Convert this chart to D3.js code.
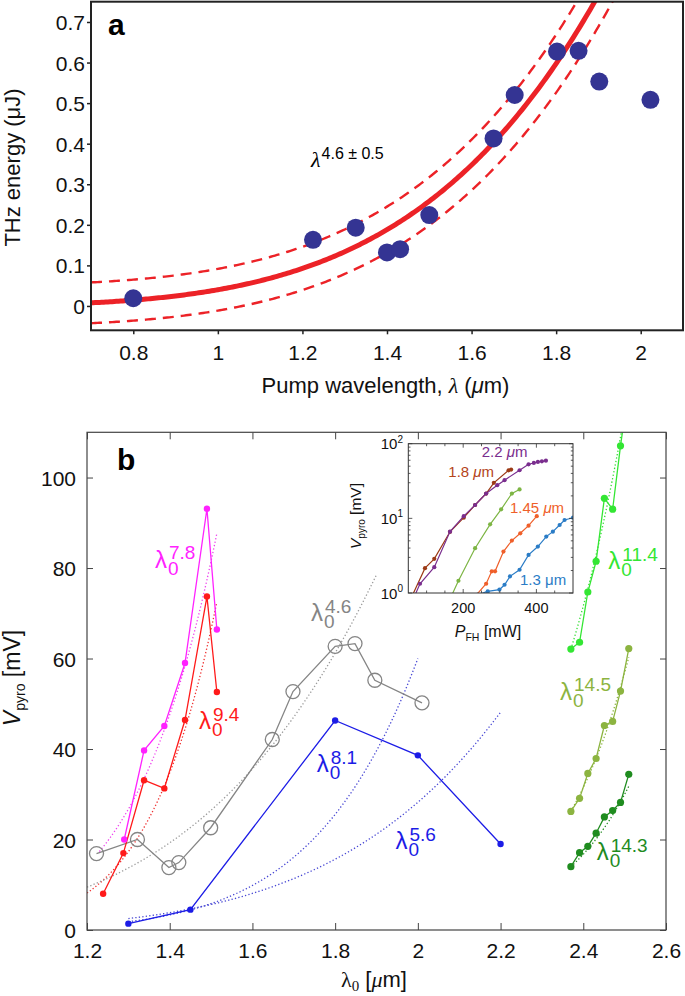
<!DOCTYPE html>
<html><head><meta charset="utf-8">
<script src="https://cdn.jsdelivr.net/npm/d3@7"></script>
<style>body{margin:0;background:#fff}svg{display:block}</style>
</head><body><svg id="c" width="685" height="996"></svg>
<script>
// ================= DATA =================
// Panel a: THz energy vs pump wavelength
const aWavelength = [0.8, 1.225, 1.326, 1.4, 1.431, 1.5, 1.652, 1.702, 1.802, 1.853, 1.902, 2.023];
const aEnergy     = [0.019, 0.163, 0.193, 0.132, 0.14, 0.224, 0.413, 0.52, 0.627, 0.629, 0.553, 0.508];
const aFitExponent = 4.6, aFitPrefactor = 0.04;      // E = A * lambda^n
const aBandOffset = 0.05, aBandScale = 0.036;        // confidence band half-width = c + k*E
const aXTicks = [0.8, 1, 1.2, 1.4, 1.6, 1.8, 2];
const aYTicks = [0, 0.1, 0.2, 0.3, 0.4, 0.5, 0.6, 0.7];

// Panel b: V_pyro vs lambda0
const magentaX = [1.29, 1.338, 1.387, 1.437, 1.49, 1.514];
const magentaY = [20, 39.7, 45.1, 59, 93.1, 66.4];
const redX = [1.239, 1.288, 1.338, 1.387, 1.437, 1.49, 1.514];
const redY = [8.0, 17.0, 33.1, 31.3, 46.4, 73.7, 52.6];
const grayX = [1.223, 1.322, 1.398, 1.422, 1.499, 1.648, 1.698, 1.8, 1.848, 1.896, 2.01];
const grayY = [16.9, 20.0, 13.8, 14.9, 22.6, 42.1, 52.7, 62.7, 63.3, 55.2, 50.2];
const blueX = [1.3, 1.45, 1.8, 2.0, 2.2];
const blueY = [1.4, 4.5, 46.3, 38.6, 19.0];
const greenX = [2.37, 2.391, 2.411, 2.431, 2.451, 2.471, 2.49, 2.51];
const greenY = [62.1, 63.6, 74.7, 81.5, 95.4, 93.0, 107, 120];
const oliveX = [2.37, 2.391, 2.411, 2.431, 2.451, 2.471, 2.49, 2.51];
const oliveY = [26.2, 29.1, 34.6, 37.9, 45.2, 46.1, 52.8, 62.2];
const darkX = [2.37, 2.391, 2.411, 2.431, 2.451, 2.471, 2.49, 2.51];
const darkY = [14.0, 17.1, 18.5, 21.4, 25.0, 26.4, 28.2, 34.4];

// power-law fits: exponent, prefactor, lambda range
const fitExponents  = [7.8, 9.4, 4.6, 8.1, 5.6, 11.4, 14.5, 14.3];
const fitPrefactors = [3.45, 1.47, 4.1, 0.2187, 0.582, 0.003316, 9.66e-5, 6.12e-5];
const fitStart = [1.23, 1.2, 1.2, 1.3, 1.3, 2.37, 2.37, 2.37];
const fitEnd   = [1.514, 1.514, 1.9, 2.0, 2.2, 2.495, 2.51, 2.51];

const bXTicks = [1.2, 1.4, 1.6, 1.8, 2, 2.2, 2.4, 2.6];
const bYTicks = [0, 20, 40, 60, 80, 100];

// Inset: V_pyro (log) vs P_FH
const in22P = [62, 82, 121, 164, 201.5, 232.5, 262.7, 293, 313, 354, 378.6, 393, 404, 415, 426];
const in22V = [0.8, 1.33, 2.22, 6.64, 10.7, 15.1, 21.5, 27.8, 32.5, 44.1, 53.0, 55.2, 57, 58.1, 59.3];
const in18P = [55, 95.6, 121, 164, 201.5, 232.5, 262.7, 283.7, 324, 331];
const in18V = [0.8, 2.15, 2.87, 6.6, 10.2, 15.1, 21.5, 29.9, 44, 45];
const inGP  = [165, 187, 232.5, 273.6, 303.7, 333, 354];
const inGV  = [0.85, 1.46, 3.98, 8.32, 13.2, 21.5, 24.4];
const in145P = [228, 262.7, 278, 287, 310, 333, 356, 378.6, 401];
const in145V = [0.85, 1.33, 1.95, 1.95, 3.59, 5.04, 6.31, 7.98, 10.7];
const in13P = [240, 267, 299, 313, 328, 354, 378.6, 404, 427, 445, 463.5, 477, 500];
const in13V = [0.95, 1.05, 1.11, 1.29, 1.67, 2.05, 3.24, 4.19, 5.7, 6.64, 8.15, 9.5, 10.2];
const inXTicks = [200, 400];
const inYTicks = [1, 10, 100];

// ================= DRAW =================
const FONT = '"Liberation Sans", Arial, Helvetica, sans-serif';
const SERIF = '"Liberation Serif", "Times New Roman", serif';
const svg = d3.select("#c").attr("font-family", FONT);
const defs = svg.append("defs");

// ---------- Panel a ----------
const ax = d3.scaleLinear().domain([0.7, 2.1]).range([91, 683]);
const ay = d3.scaleLinear().domain([-0.06, 0.75]).range([330.3, 1.7]);
defs.append("clipPath").attr("id", "clipA").append("rect")
  .attr("x", ax.range()[0]).attr("y", ay.range()[1])
  .attr("width", ax.range()[1] - ax.range()[0]).attr("height", ay.range()[0] - ay.range()[1]);

const ga = svg.append("g");
const fitA = l => aFitPrefactor * Math.pow(l, aFitExponent);
const grid = d3.range(0.7, 2.1001, 0.005);
const lineA = d3.line().x(d => ax(d[0])).y(d => ay(d[1]));
const plotA = ga.append("g").attr("clip-path", "url(#clipA)");
plotA.append("path").datum(grid.map(l => [l, fitA(l) + aBandOffset + aBandScale * fitA(l)]))
  .attr("d", lineA).attr("fill", "none").attr("stroke", "#ec2227").attr("stroke-width", 2.4).attr("stroke-dasharray", "11,7");
plotA.append("path").datum(grid.map(l => [l, fitA(l) - aBandOffset - aBandScale * fitA(l)]))
  .attr("d", lineA).attr("fill", "none").attr("stroke", "#ec2227").attr("stroke-width", 2.4).attr("stroke-dasharray", "11,7");
plotA.append("path").datum(grid.map(l => [l, fitA(l)]))
  .attr("d", lineA).attr("fill", "none").attr("stroke", "#ec2227").attr("stroke-width", 5);
plotA.selectAll("circle").data(aWavelength.map((w, i) => [w, aEnergy[i]])).join("circle")
  .attr("cx", d => ax(d[0])).attr("cy", d => ay(d[1])).attr("r", 9).attr("fill", "#343493");

const axA = ga.append("g").attr("transform", `translate(0,${ay.range()[0]})`)
  .call(d3.axisBottom(ax).tickValues(aXTicks).tickSize(4).tickFormat(d3.format("")));
axA.selectAll("text").attr("y", 29.7).attr("dy", null).attr("font-size", 21).attr("font-family", FONT).attr("fill", "#111");
const ayA = ga.append("g").attr("transform", `translate(${ax.range()[0]},0)`)
  .call(d3.axisLeft(ay).tickValues(aYTicks).tickSize(4).tickFormat(d3.format("")));
ayA.selectAll("text").attr("x", -6).attr("dy", "0.36em").attr("font-size", 21).attr("font-family", FONT).attr("fill", "#111");
[axA, ayA].forEach(g => { g.select(".domain").remove(); g.selectAll("line").attr("stroke", "#222").attr("stroke-width", 1.5); });
ga.append("rect").attr("x", ax.range()[0]).attr("y", ay.range()[1])
  .attr("width", ax.range()[1] - ax.range()[0]).attr("height", ay.range()[0] - ay.range()[1])
  .attr("fill", "none").attr("stroke", "#222").attr("stroke-width", 2);

ga.append("text").attr("x", 108).attr("y", 35).attr("font-size", 30).attr("font-weight", "bold").text("a");
const lt = ga.append("text").attr("x", 311).attr("y", 167);
lt.append("tspan").attr("font-family", SERIF).attr("font-style", "italic").attr("font-size", 22).text("λ");
lt.append("tspan").attr("font-size", 16).attr("dy", -8).attr("dx", 1).text("4.6 ± 0.5");
ga.append("text").attr("transform", "translate(19.5,167.5) rotate(-90)").attr("text-anchor", "middle")
  .attr("font-size", 22).attr("fill", "#111").text("THz energy (μJ)");
const xt = ga.append("text").attr("x", 385.5).attr("y", 393).attr("text-anchor", "middle").attr("font-size", 22).attr("fill", "#111");
xt.append("tspan").text("Pump wavelength, ");
xt.append("tspan").attr("font-style", "italic").attr("font-family", SERIF).text("λ");
xt.append("tspan").text(" (");
xt.append("tspan").attr("font-style", "italic").text("μ");
xt.append("tspan").text("m)");

// ---------- Panel b ----------
const bx = d3.scaleLinear().domain([1.2, 2.6]).range([87, 666]);
const by = d3.scaleLinear().domain([0, 110]).range([930, 432.3]);
defs.append("clipPath").attr("id", "clipB").append("rect")
  .attr("x", bx.range()[0]).attr("y", by.range()[1])
  .attr("width", bx.range()[1] - bx.range()[0]).attr("height", by.range()[0] - by.range()[1]);
const gb = svg.append("g");
const plotB = gb.append("g").attr("clip-path", "url(#clipB)");
const lineB = d3.line().x(d => bx(d[0])).y(d => by(d[1]));

const fitColors = ["#ee44ee", "#ee3030", "#9a9a9a", "#4848d4", "#4848d4", "#33dd33", "#8ab43e", "#228b22"];
fitExponents.forEach((n, i) => {
  const pts = d3.range(fitStart[i], fitEnd[i] + 1e-9, (fitEnd[i] - fitStart[i]) / 120)
    .map(l => [l, fitPrefactors[i] * Math.pow(l, n)]);
  plotB.append("path").datum(pts).attr("d", lineB).attr("fill", "none")
    .attr("stroke", fitColors[i]).attr("stroke-width", 1.3).attr("stroke-dasharray", "1.3,2.2");
});

const seriesB = [
  {x: grayX, y: grayY, c: "#858585", open: true},
  {x: blueX, y: blueY, c: "#1c1ce6"},
  {x: redX, y: redY, c: "#ff1a1a"},
  {x: magentaX, y: magentaY, c: "#ff22ff"},
  {x: greenX, y: greenY, c: "#33e633", r: 3.6},
  {x: oliveX, y: oliveY, c: "#8cb440", r: 3.6},
  {x: darkX, y: darkY, c: "#1f8c1f", r: 3.6},
];
seriesB.forEach(s => {
  const pts = s.x.map((v, i) => [v, s.y[i]]);
  plotB.append("path").datum(pts).attr("d", lineB).attr("fill", "none").attr("stroke", s.c).attr("stroke-width", 1.3);
  plotB.append("g").selectAll("circle").data(pts).join("circle")
    .attr("cx", d => bx(d[0])).attr("cy", d => by(d[1]))
    .attr("r", s.open ? 7 : (s.r || 3.2))
    .attr("fill", s.open ? "none" : s.c).attr("stroke", s.open ? s.c : "none").attr("stroke-width", 1.3);
});

function axisStyle(g) {
  g.select(".domain").remove();
  g.selectAll("line").attr("stroke", "#444").attr("stroke-width", 1);
  g.selectAll("text").attr("font-family", FONT).attr("fill", "#111");
}
const bxa = gb.append("g").attr("transform", `translate(0,${by.range()[0]})`)
  .call(d3.axisBottom(bx).tickValues(bXTicks).tickSize(-7).tickFormat(d3.format("")));
bxa.selectAll("text").attr("y", 28).attr("dy", null).attr("font-size", 21);
axisStyle(bxa);
const bxt = gb.append("g").attr("transform", `translate(0,${by.range()[1]})`)
  .call(d3.axisTop(bx).tickValues(bXTicks).tickSize(-7).tickFormat(""));
axisStyle(bxt);
const bya = gb.append("g").attr("transform", `translate(${bx.range()[0]},0)`)
  .call(d3.axisLeft(by).tickValues(bYTicks).tickSize(-6).tickFormat(d3.format("")));
bya.selectAll("text").attr("x", -11).attr("dy", "0.36em").attr("font-size", 21);
axisStyle(bya);
const byr = gb.append("g").attr("transform", `translate(${bx.range()[1]},0)`)
  .call(d3.axisRight(by).tickValues(bYTicks).tickSize(-6).tickFormat(""));
axisStyle(byr);
gb.append("rect").attr("x", bx.range()[0]).attr("y", by.range()[1])
  .attr("width", bx.range()[1] - bx.range()[0]).attr("height", by.range()[0] - by.range()[1])
  .attr("fill", "none").attr("stroke", "#444").attr("stroke-width", 1.2);

gb.append("text").attr("x", 117).attr("y", 470).attr("font-size", 30).attr("font-weight", "bold").text("b");

function lamLabel(x, B, sup, color) {
  const g = gb.append("g").attr("fill", color);
  g.append("text").attr("x", x).attr("y", B).attr("font-size", 24).text("λ");
  g.append("text").attr("x", x + 13).attr("y", B + 7).attr("font-size", 19).text("0");
  g.append("text").attr("x", x + 14).attr("y", B - 8.5).attr("font-size", 19).text(sup);
}
lamLabel(155, 567.5, "7.8", "#ff22ff");
lamLabel(199, 729, "9.4", "#ff1a1a");
lamLabel(311, 621.4, "4.6", "#858585");
lamLabel(316.7, 772, "8.1", "#1c1ce6");
lamLabel(395.4, 849, "5.6", "#1c1ce6");
lamLabel(608.3, 569, "11.4", "#33e633");
lamLabel(560, 699.5, "14.5", "#8cb440");
lamLabel(596.7, 860, "14.3", "#1f8c1f");

const byt = gb.append("text").attr("transform", "translate(20,678) rotate(-90)").attr("text-anchor", "middle").attr("font-size", 23).attr("fill", "#111");
byt.append("tspan").attr("font-style", "italic").text("V");
byt.append("tspan").attr("font-size", 14).attr("dy", 5).text("pyro");
byt.append("tspan").attr("dy", -5).text(" [mV]");
const bxtt = gb.append("text").attr("x", 374).attr("y", 987).attr("text-anchor", "middle").attr("font-size", 22).attr("fill", "#111");
bxtt.append("tspan").attr("font-family", SERIF).text("λ");
bxtt.append("tspan").attr("font-family", SERIF).attr("font-size", 15).attr("dy", 4).text("0");
bxtt.append("tspan").attr("dy", -4).text(" [");
bxtt.append("tspan").attr("font-family", SERIF).attr("font-style", "italic").text("μ");
bxtt.append("tspan").text("m]");

// ---------- Inset ----------
const ix = d3.scaleLinear().domain([50, 500]).range([408.3, 573]);
const iy = d3.scaleLog().domain([1, 100]).range([593, 443.7]);
defs.append("clipPath").attr("id", "clipI").append("rect")
  .attr("x", ix.range()[0]).attr("y", iy.range()[1])
  .attr("width", ix.range()[1] - ix.range()[0]).attr("height", iy.range()[0] - iy.range()[1]);
const gi = svg.append("g");
gi.append("rect").attr("x", ix.range()[0]).attr("y", iy.range()[1])
  .attr("width", ix.range()[1] - ix.range()[0]).attr("height", iy.range()[0] - iy.range()[1]).attr("fill", "#fff");
const plotI = gi.append("g").attr("clip-path", "url(#clipI)");
const lineI = d3.line().x(d => ix(d[0])).y(d => iy(d[1]));
const seriesI = [
  {p: in13P, v: in13V, c: "#2a7cc6"},
  {p: in145P, v: in145V, c: "#ef5f2a"},
  {p: inGP, v: inGV, c: "#7db544"},
  {p: in18P, v: in18V, c: "#9c3a16"},
  {p: in22P, v: in22V, c: "#7a2e8e"},
];
seriesI.forEach(s => {
  const pts = s.p.map((v, i) => [v, s.v[i]]);
  plotI.append("path").datum(pts).attr("d", lineI).attr("fill", "none").attr("stroke", s.c).attr("stroke-width", 1.2);
  plotI.append("g").selectAll("circle").data(pts).join("circle")
    .attr("cx", d => ix(d[0])).attr("cy", d => iy(d[1])).attr("r", 2.1).attr("fill", s.c);
});
// inset ticks
const minorY = [1,2,3,4,5,6,7,8,9,10,20,30,40,50,60,70,80,90,100];
const tickG = gi.append("g").attr("stroke", "#333").attr("stroke-width", 0.8);
minorY.forEach(v => {
  const len = inYTicks.includes(v) ? 4 : 2.2;
  tickG.append("line").attr("x1", ix.range()[0]).attr("x2", ix.range()[0] + len).attr("y1", iy(v)).attr("y2", iy(v));
  tickG.append("line").attr("x1", ix.range()[1]).attr("x2", ix.range()[1] - len).attr("y1", iy(v)).attr("y2", iy(v));
});
d3.range(100, 500, 50).forEach(v => {
  const len = inXTicks.includes(v) ? 4 : 2.5;
  tickG.append("line").attr("x1", ix(v)).attr("x2", ix(v)).attr("y1", iy.range()[0]).attr("y2", iy.range()[0] - len);
  tickG.append("line").attr("x1", ix(v)).attr("x2", ix(v)).attr("y1", iy.range()[1]).attr("y2", iy.range()[1] + len);
});
gi.append("rect").attr("x", ix.range()[0]).attr("y", iy.range()[1])
  .attr("width", ix.range()[1] - ix.range()[0]).attr("height", iy.range()[0] - iy.range()[1])
  .attr("fill", "none").attr("stroke", "#333").attr("stroke-width", 1);
inXTicks.forEach(v => gi.append("text").attr("x", ix(v)).attr("y", 613).attr("text-anchor", "middle").attr("font-size", 14.5).attr("fill", "#111").text(v));
inYTicks.forEach((v, i) => {
  const t = gi.append("text").attr("x", 403).attr("y", iy(v) + 5.5).attr("text-anchor", "end").attr("font-size", 15).attr("fill", "#111");
  t.append("tspan").text("10");
  t.append("tspan").attr("font-size", 10).attr("dy", -6.5).text(String(Math.round(Math.log10(v))));
});
const iyt = gi.append("text").attr("transform", "translate(361,516) rotate(-90)").attr("text-anchor", "middle").attr("font-size", 15.5).attr("fill", "#111");
iyt.append("tspan").attr("font-style", "italic").text("V");
iyt.append("tspan").attr("font-size", 10).attr("dy", 3.5).text("pyro");
iyt.append("tspan").attr("dy", -3.5).text(" [mV]");
const ixt = gi.append("text").attr("x", 488).attr("y", 637).attr("text-anchor", "middle").attr("font-size", 16).attr("fill", "#111");
ixt.append("tspan").attr("font-style", "italic").text("P");
ixt.append("tspan").attr("font-size", 10.5).attr("dy", 3.5).text("FH");
ixt.append("tspan").attr("dy", -3.5).text(" [mW]");

function inLabel(x, y, num, color, italicMu) {
  const t = gi.append("text").attr("x", x).attr("y", y).attr("font-size", 15).attr("fill", color);
  t.append("tspan").text(num + " ");
  t.append("tspan").attr("font-style", italicMu ? "italic" : "normal").text("μ");
  t.append("tspan").text("m");
}
inLabel(481.7, 457.3, "2.2", "#7a2e8e", true);
inLabel(448.3, 477.3, "1.8", "#b4441a", true);
inLabel(510, 512.7, "1.45", "#ef5f2a", true);
inLabel(520, 585.3, "1.3", "#2a7cc6", false);
</script></body></html>
